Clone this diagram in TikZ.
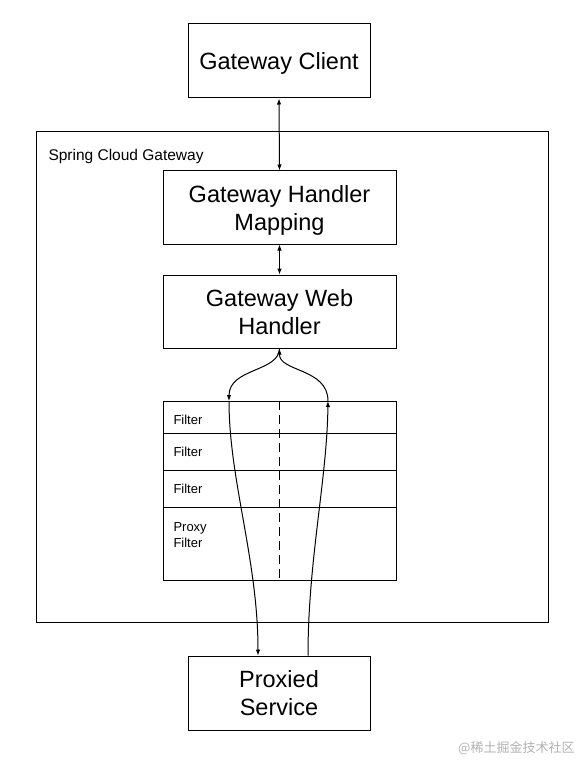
\documentclass[tikz,border=0pt]{standalone}
\usepackage{fontspec}
\setmainfont{Liberation Sans}
\newfontfamily\cjk{Noto Sans CJK SC}
\usetikzlibrary{arrows.meta}

\begin{document}
\begin{tikzpicture}[x=1pt, y=-1pt, line width=1pt, >={Latex[length=6pt,width=4.5pt]},
		bigbox/.style={draw, align=center, text depth=0pt, font=\fontsize{23.5}{28}\selectfont},
		rowbox/.style={draw, minimum width=233, inner sep=0pt},
		small/.style={font=\fontsize{13}{16}\selectfont, anchor=west, inner sep=0pt, align=left}]
		\useasboundingbox (0,0) rectangle (578,762);
		% outer frame
		\node[draw, minimum width=512, minimum height=490, inner sep=0pt] (scg) at (292,377) {};
		\node[anchor=west, inner sep=0pt, font=\fontsize{15.5}{18}\selectfont] (scglabel) at (48,156) {Spring Cloud Gateway};
		% boxes
		\node[bigbox, minimum width=182, minimum height=74] (client) at (279,61) {Gateway Client};
		\node[bigbox, minimum width=233, minimum height=73] (mapping) at (279.5,207.5) {Gateway Handler\\Mapping};
		\node[bigbox, minimum width=233, minimum height=73] (web) at (279.5,311.5) {Gateway Web\\Handler};
		\node[bigbox, minimum width=182, minimum height=74] (proxied) at (279,693) {Proxied\\Service};
		% filter chain
		\node[rowbox, minimum height=32] (f1) at (279.5,417) {};
		\node[rowbox, minimum height=37] (f2) at (279.5,451.5) {};
		\node[rowbox, minimum height=37] (f3) at (279.5,488.5) {};
		\node[rowbox, minimum height=73] (f4) at (279.5,543.5) {};
		\node[small] (l1) at (173,420) {Filter};
		\node[small] (l2) at (173,452) {Filter};
		\node[small] (l3) at (173,489) {Filter};
		\node[small] (l4) at (173,535) {Proxy\\Filter};
		\draw[dash pattern=on 9pt off 5pt] (f1.north) -- (f4.south);
		% arrows
		\draw[<->] (client.south) -- (mapping.north);
		\draw[<->] (mapping.south) -- (web.north);
		\coordinate (down) at (229,401);
		\coordinate (up) at (328,401);
		\draw[->] (web.south) .. controls (279,372) and (229,368) .. (down);
		\draw[->] (down) .. controls (229,480) and (258,560) .. ([xshift=-21pt]proxied.north);
		\draw[->] ([xshift=29pt]proxied.north) .. controls (308,560) and (327,480) .. (up);
		\draw[->] (up) .. controls (328,368) and (279,372) .. (web.south);
		% watermark
		\node[anchor=east, inner sep=0pt, text=black!30, font=\cjk\fontsize{13}{15}\selectfont] (mark) at (575,748) {@稀土掘金技术社区};
	\end{tikzpicture}
\end{document}
